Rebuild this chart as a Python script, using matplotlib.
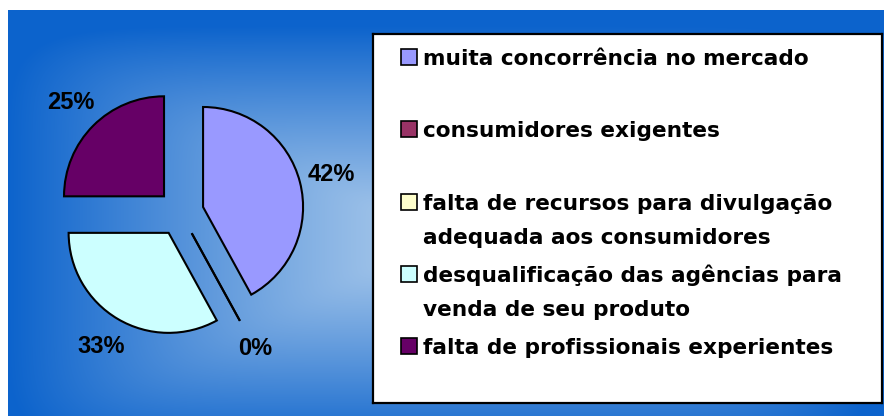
import numpy as np
import matplotlib
matplotlib.use("Agg")
import matplotlib.pyplot as plt
from matplotlib.patches import Rectangle

# data
categories = [
    "muita concorrência no mercado",
    "consumidores exigentes",
    "falta de recursos para divulgação\nadequada aos consumidores",
    "desqualificação das agências para\nvenda de seu produto",
    "falta de profissionais experientes",
]
values = [42, 0, 0, 33, 25]
pct_labels = ["42%", "0%", "", "33%", "25%"]
colors = ["#9999FF", "#993366", "#FFFFCC", "#CCFFFF", "#660066"]

W, H = 884, 416
fig = plt.figure(figsize=(W / 100, H / 100), dpi=100)
fig.patch.set_facecolor("white")

# background gradient (soft rectangle, from center)
bg = fig.add_axes([8 / W, 0, 876 / W, 406 / H])
X, Y = np.meshgrid(np.arange(876), np.arange(406))
dx = np.abs(X - 432) / 432
dy = np.abs(Y - 228) / 212
t = (dx ** 8 + dy ** 8) ** 0.125
t = np.clip(t, 0, 1) ** 1.15
light = np.array([0.68, 0.80, 0.925])
dark = np.array([0.05, 0.39, 0.80])
img = light[None, None, :] * (1 - t[..., None]) + dark[None, None, :] * t[..., None]
bg.imshow(img, aspect="auto", interpolation="bilinear")
bg.axis("off")

# pie, 100 px per unit, center at (180.5, 212.8) px
cx, cy = 180.5, 212.8
ax = fig.add_axes([(cx - 200) / W, (H - cy - 200) / H, 400 / W, 400 / H])
ax.patch.set_alpha(0)
wedges, texts = ax.pie(values, colors=colors, explode=[0.233] * len(values),
                       startangle=90, counterclock=False,
                       labels=pct_labels, labeldistance=1.32,
                       wedgeprops=dict(edgecolor="black", linewidth=1.5),
                       textprops=dict(fontsize=17, fontweight="bold",
                                      family="Liberation Sans", color="black"))
for tx in texts:
    tx.set_horizontalalignment("center")
    tx.set_verticalalignment("center")
ax.set_xlim(-2, 2)
ax.set_ylim(-2, 2)
ax.axis("off")

# legend box (pixel coords)
lg = fig.add_axes([373 / W, (H - 403) / H, (882 - 373) / W, (403 - 34) / H])
lg.set_xlim(373, 882)
lg.set_ylim(403, 34)
lg.set_xticks([])
lg.set_yticks([])
lg.set_facecolor("white")
for s in lg.spines.values():
    s.set_linewidth(1.6)
    s.set_color("black")

for i, (lab, col) in enumerate(zip(categories, colors)):
    base = 65 + 72.3 * i
    lg.add_patch(Rectangle((401, base - 16), 16, 16, facecolor=col,
                           edgecolor="black", linewidth=1.2))
    for j, line in enumerate(lab.split("\n")):
        lg.text(423, base + 34 * j, line, fontsize=15.6, fontweight="bold",
                family="DejaVu Sans", va="baseline", ha="left")

fig.savefig("out.png", dpi=100, facecolor=fig.get_facecolor())
